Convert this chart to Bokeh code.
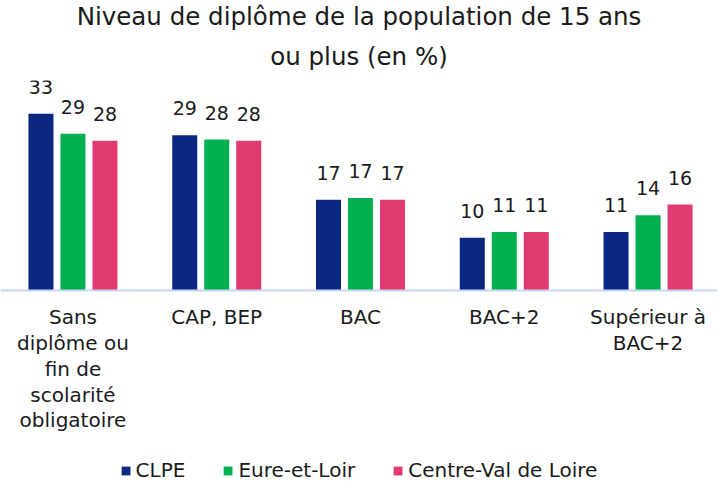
from bokeh.plotting import figure
from bokeh.models import Range1d, FixedTicker, Legend, LegendItem, ColumnDataSource, Title
from bokeh.core.properties import value
from bokeh.embed import file_html
from bokeh.resources import INLINE

categories = ["Sans\ndiplôme ou\nfin de\nscolarité\nobligatoire", "CAP, BEP", "BAC", "BAC+2", "Supérieur à\nBAC+2"]
series_names = ["CLPE", "Eure-et-Loir", "Centre-Val de Loire"]
clpe = [32.9, 28.9, 16.9, 9.8, 10.9]
eure = [29.2, 28.1, 17.2, 10.9, 14.0]
cvl = [27.9, 27.9, 16.9, 10.9, 16.0]
colors = ["#0b2780", "#00b050", "#e03b6e"]
title_lines = ["Niveau de diplôme de la population de 15 ans", "ou plus (en %)"]

FONT = "DejaVu Sans"
TXT = "#1a1a1a"

p = figure(frame_width=717, frame_height=402, output_backend="svg", toolbar_location=None,
           x_range=Range1d(-0.504, 4.483), y_range=Range1d(-35.75, 39.1), title=None,
           min_border_left=0, min_border_right=0, min_border_bottom=0, min_border_top=0)

offsets = [-0.2226, 0.0, 0.2226]
renderers = []
for vals, off, col in zip([clpe, eure, cvl], offsets, colors):
    xs = [i + off for i in range(len(categories))]
    src = ColumnDataSource(dict(x=xs, top=vals, lab=[f"{round(v)}" for v in vals]))
    r = p.vbar(x="x", top="top", bottom=0, width=0.174, source=src, fill_color=col, line_color=None)
    renderers.append(r)
    p.text(x="x", y="top", text="lab", source=src, text_align="center", text_baseline="alphabetic",
           y_offset=-27, text_font=value(FONT), text_font_size="19px", text_color=TXT)

standoffs = [17, 1]
for line, so in zip(reversed(title_lines), standoffs):
    t = Title(text=line, align="center", vertical_align="middle", text_font=FONT,
              text_font_size="24.5px", text_font_style="normal", text_color=TXT, standoff=so)
    p.add_layout(t, "above")

p.yaxis.visible = False
p.xgrid.visible = False
p.ygrid.visible = False
p.outline_line_color = None

ax = p.xaxis[0]
ax.fixed_location = 0
ax.ticker = FixedTicker(ticks=list(range(len(categories))))
ax.major_label_overrides = {i: c for i, c in enumerate(categories)}
ax.axis_line_color = "#c8d5f3"
ax.axis_line_width = 2
ax.major_tick_line_color = None
ax.minor_tick_line_color = None
ax.major_label_standoff = 9
ax.major_label_text_font = FONT
ax.major_label_text_font_size = "20px"
ax.major_label_text_color = TXT
ax.major_label_text_line_height = 1.07

legend = Legend(items=[LegendItem(label=n, renderers=[r]) for n, r in zip(series_names, renderers)],
                orientation="horizontal", location="bottom_center", border_line_color=None,
                background_fill_alpha=0,
                glyph_width=11, glyph_height=11, label_standoff=5, spacing=37,
                label_text_font=FONT, label_text_font_size="20px", label_text_color=TXT,
                padding=0, margin=0)
p.add_layout(legend, "center")

open("out.html", "w").write(file_html(p, INLINE))
